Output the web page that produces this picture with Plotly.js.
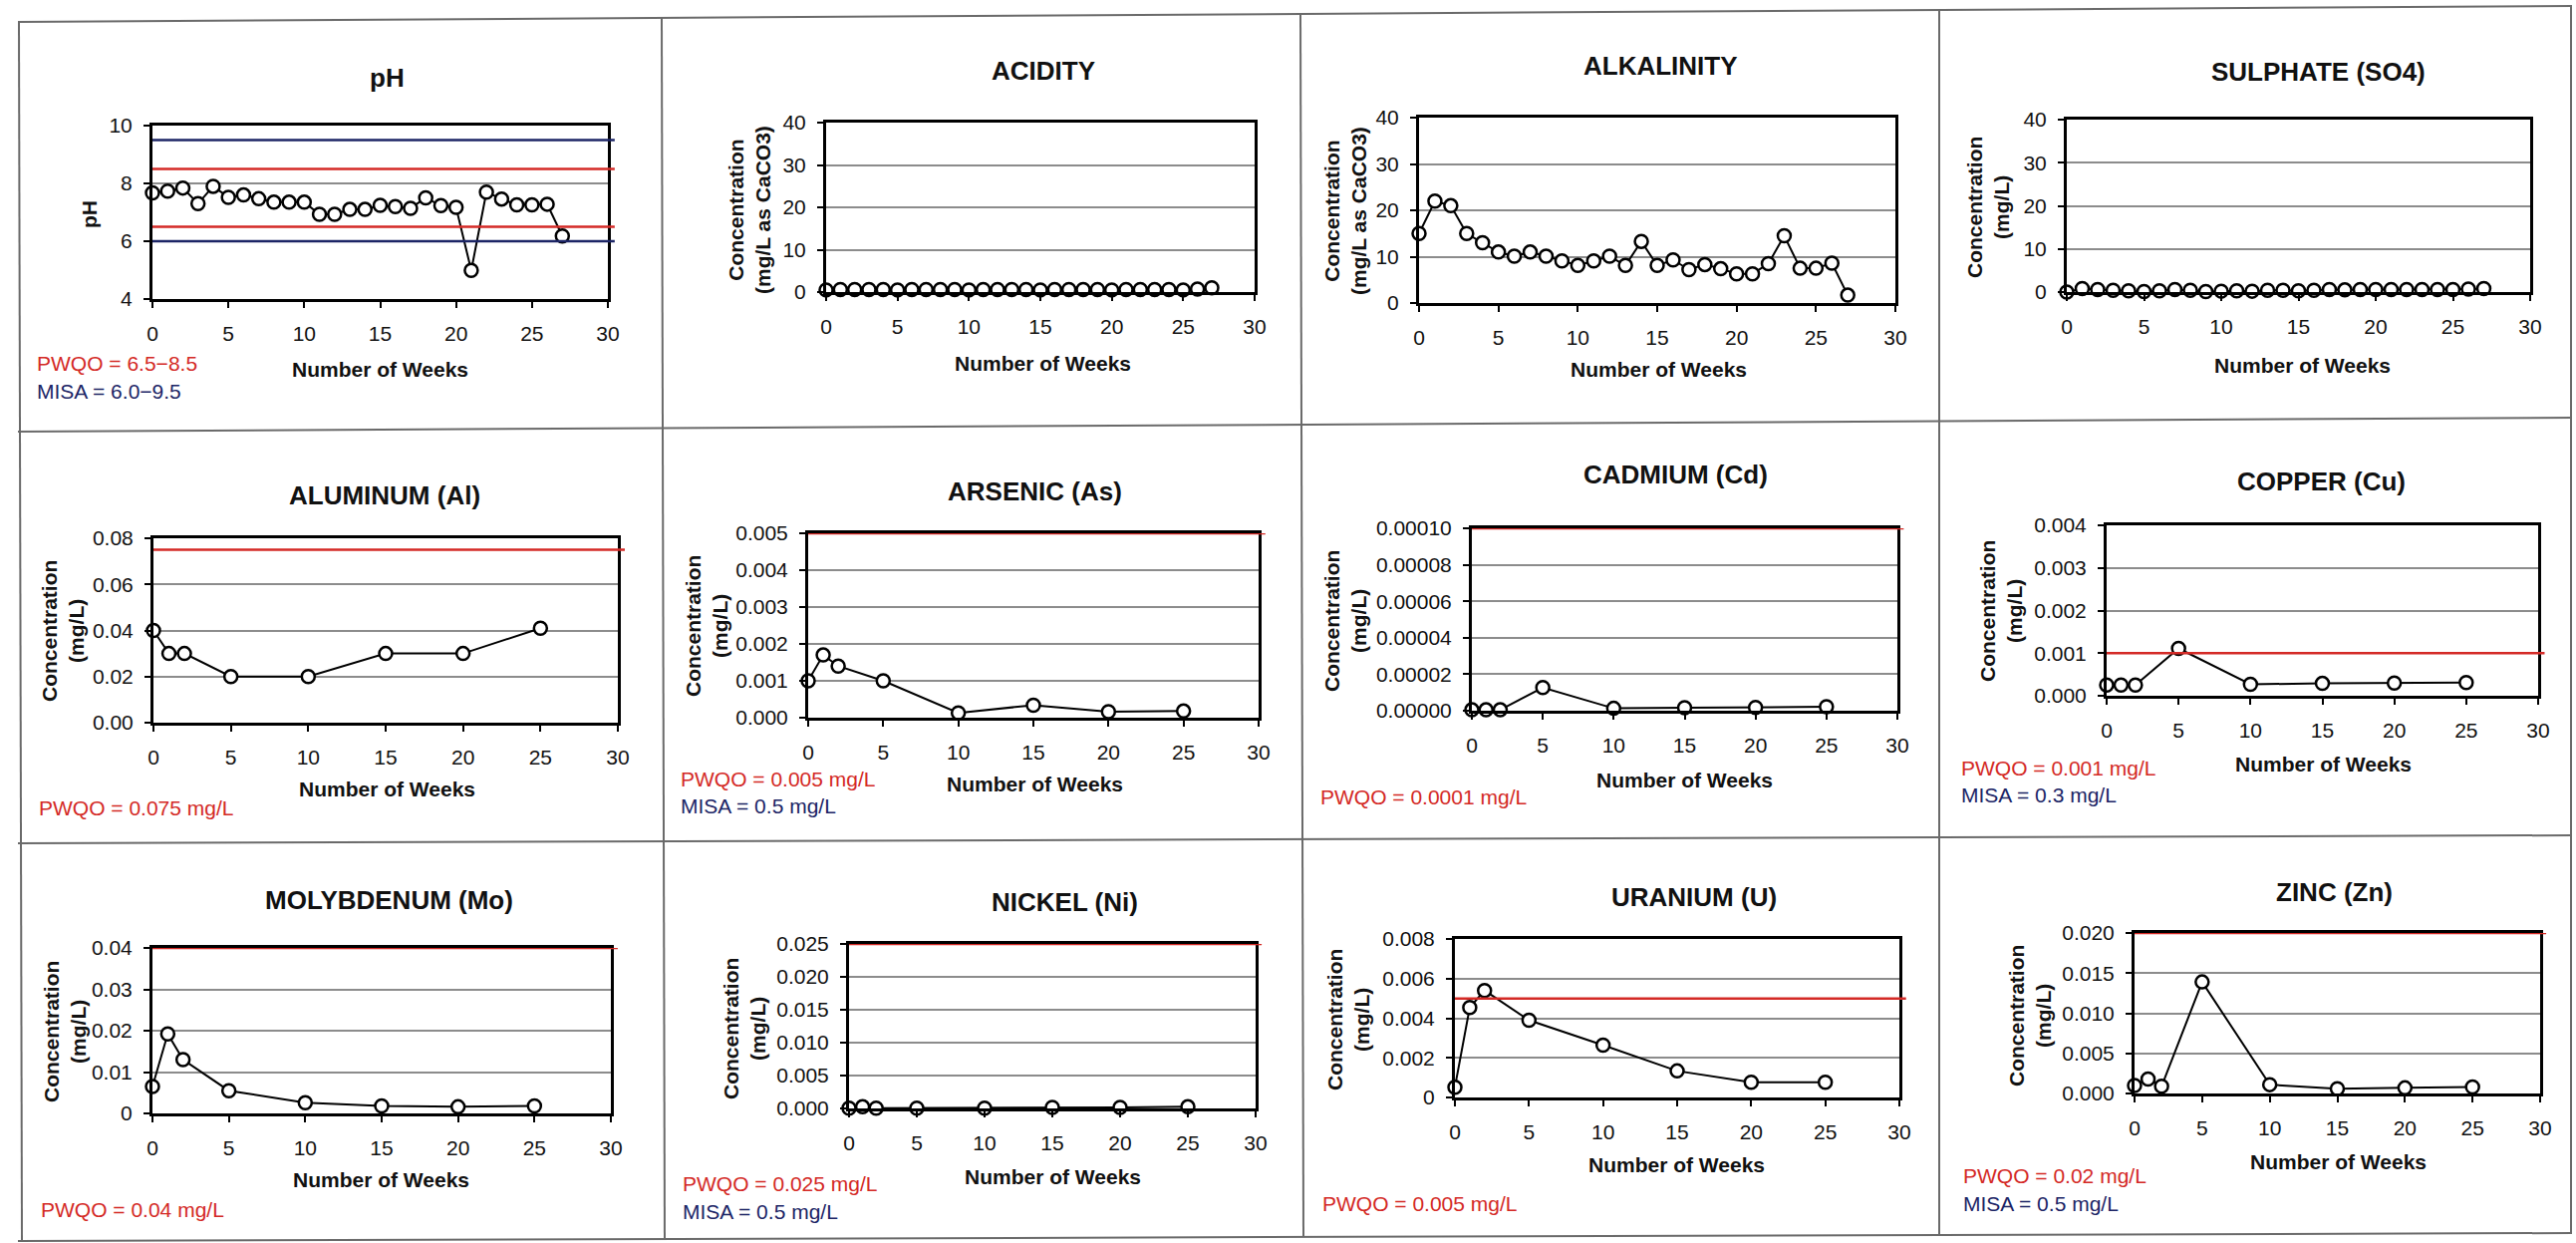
<!DOCTYPE html>
<html>
<head>
<meta charset="utf-8">
<script src="https://cdn.plot.ly/plotly-3.0.1.min.js"></script>
<style>
html,body{margin:0;padding:0;background:#ffffff;}
#chart{width:2585px;height:1247px;}
</style>
</head>
<body>
<div id="chart"></div>
<script>
// ===================== DATA =====================
const weeksAll = [0,1,2,3,4,5,6,7,8,9,10,11,12,13,14,15,16,17,18,19,20,21,22,23,24,25,26,27];
const weeksSampled = [0,1,2,5,10,15,20,25];
const weekTicks = [0,5,10,15,20,25,30];

const phValues = [7.67,7.73,7.84,7.30,7.90,7.52,7.60,7.47,7.35,7.35,7.35,6.93,6.93,7.10,7.10,7.24,7.20,7.14,7.50,7.23,7.17,4.99,7.70,7.46,7.26,7.26,7.28,6.18];
const acidityValues = [0.5,0.6,0.6,0.6,0.6,0.5,0.6,0.6,0.6,0.6,0.5,0.6,0.6,0.6,0.6,0.5,0.6,0.6,0.6,0.6,0.5,0.6,0.6,0.6,0.6,0.5,0.7,1.0];
const alkalinityValues = [15.0,22.0,21.0,15.0,13.0,11.0,10.1,11.0,10.1,9.1,8.1,9.1,10.1,8.1,13.3,8.1,9.3,7.2,8.3,7.4,6.3,6.3,8.5,14.5,7.5,7.5,8.6,1.7];
const sulphateValues = [0.0,0.8,0.6,0.4,0.3,0.1,0.3,0.6,0.4,0.1,0.2,0.3,0.2,0.4,0.4,0.3,0.4,0.6,0.5,0.6,0.6,0.6,0.6,0.6,0.6,0.6,0.7,0.8];
const aluminumValues = [0.040,0.030,0.030,0.020,0.020,0.030,0.030,0.041];
const arsenicValues = [0.0010,0.0017,0.0014,0.0010,0.00013,0.00034,0.00016,0.00018];
const cadmiumValues = [0.0000005,0.0000005,0.0000005,0.0000127,0.0000013,0.0000016,0.0000018,0.0000022];
const copperValues = [0.00025,0.00025,0.00025,0.00111,0.00027,0.00029,0.00030,0.00031];
const molybdenumValues = [0.0065,0.0192,0.0130,0.0055,0.0026,0.0018,0.0016,0.0018];
const nickelValues = [0.00005,0.00025,0.00005,0.00005,0.00005,0.00015,0.00015,0.00025];
const uraniumValues = [0.00052,0.00454,0.00540,0.00390,0.00264,0.00134,0.00077,0.00077];
const zincValues = [0.0010,0.0018,0.0009,0.0139,0.0011,0.0006,0.0007,0.0008];

// guideline values (PWQO red, MISA navy) drawn inside each chart
const phPWQO = [6.5, 8.5];
const phMISA = [6.0, 9.5];
const aluminumPWQO = [0.075];
const arsenicPWQO = [0.005];
const cadmiumPWQO = [0.0001];
const copperPWQO = [0.001];
const molybdenumPWQO = [0.04];
const nickelPWQO = [0.025];
const uraniumPWQO = [0.005];
const zincPWQO = [0.02];

// y tick values
const phTicks = [4,6,8,10];
const concTicks40 = [0,10,20,30,40];
const aluminumTicks = [0,0.02,0.04,0.06,0.08];
const arsenicTicks = [0,0.001,0.002,0.003,0.004,0.005];
const cadmiumTicks = [0,0.00002,0.00004,0.00006,0.00008,0.0001];
const copperTicks = [0,0.001,0.002,0.003,0.004];
const molybdenumTicks = [0,0.01,0.02,0.03,0.04];
const nickelTicks = [0,0.005,0.01,0.015,0.02,0.025];
const uraniumTicks = [0,0.002,0.004,0.006,0.008];
const zincTicks = [0,0.005,0.01,0.015,0.02];

// titles and texts
const panelTitles = ['pH','ACIDITY','ALKALINITY','SULPHATE (SO4)','ALUMINUM (Al)','ARSENIC (As)','CADMIUM (Cd)','COPPER (Cu)','MOLYBDENUM (Mo)','NICKEL (Ni)','URANIUM (U)','ZINC (Zn)'];
const xAxisTitle = 'Number of Weeks';
const yTitleCaCO3 = 'Concentration<br>(mg/L as CaCO3)';
const yTitleMgL = 'Concentration<br>(mg/L)';

// ===================== STYLE / LAYOUT =====================
const W = 2585, H = 1247;
const FONT = '"Liberation Sans", Arial, sans-serif';
const RED = '#d42a26';
const NAVY = '#1c2566';
const GRID = '#8c8c8c';

// box: [left, right, top, bottom] in px
const panels = [
  {title:panelTitles[0], x:weeksAll, y:phValues, range:[4,10], ticks:phTicks, fmt:'',
   box:[153,610,126,300], t:[388,78], yt:'pH', ytx:89, yty:215, xt:[381,371],
   notes:[['PWQO = 6.5−8.5',RED,35,364],['MISA = 6.0−9.5',NAVY,35,392]],
   limits:[[phPWQO,RED],[phMISA,NAVY]]},
  {title:panelTitles[1], x:weeksAll, y:acidityValues, range:[0,40], ticks:concTicks40, fmt:'',
   box:[829,1259,123,293], t:[1047,71], yt:yTitleCaCO3, ytx:752, yty:211, xt:[1046,364],
   notes:[], limits:[]},
  {title:panelTitles[2], x:weeksAll, y:alkalinityValues, range:[0,40], ticks:concTicks40, fmt:'',
   box:[1424,1902,118,304], t:[1666,66], yt:yTitleCaCO3, ytx:1350, yty:212, xt:[1664,371],
   notes:[], limits:[]},
  {title:panelTitles[3], x:weeksAll, y:sulphateValues, range:[0,40], ticks:concTicks40, fmt:'',
   box:[2074,2539,120,293], t:[2326,72], yt:yTitleMgL, ytx:1995, yty:208, xt:[2310,366],
   notes:[], limits:[]},
  {title:panelTitles[4], x:weeksSampled, y:aluminumValues, range:[0,0.08], ticks:aluminumTicks, fmt:'.2f',
   box:[154,620,540,725], t:[386,497], yt:yTitleMgL, ytx:63, yty:633, xt:[388,791],
   notes:[['PWQO = 0.075 mg/L',RED,37,811]], limits:[[aluminumPWQO,RED]]},
  {title:panelTitles[5], x:weeksSampled, y:arsenicValues, range:[0,0.005], ticks:arsenicTicks, fmt:'.3f',
   box:[811,1263,535,720], t:[1038,493], yt:yTitleMgL, ytx:709, yty:628, xt:[1038,787],
   notes:[['PWQO = 0.005 mg/L',RED,681,781],['MISA = 0.5 mg/L',NAVY,681,808]], limits:[[arsenicPWQO,RED]]},
  {title:panelTitles[6], x:weeksSampled, y:cadmiumValues, range:[0,0.0001], ticks:cadmiumTicks, fmt:'.5f',
   box:[1477,1904,530,713], t:[1681,476], yt:yTitleMgL, ytx:1350, yty:623, xt:[1690,782],
   notes:[['PWQO = 0.0001 mg/L',RED,1323,799]], limits:[[cadmiumPWQO,RED]]},
  {title:panelTitles[7], x:weeksSampled, y:copperValues, range:[0,0.004], ticks:copperTicks, fmt:'.3f',
   box:[2114,2547,527,698], t:[2329,483], yt:yTitleMgL, ytx:2008, yty:613, xt:[2331,766],
   notes:[['PWQO = 0.001 mg/L',RED,1966,770],['MISA = 0.3 mg/L',NAVY,1966,797]], limits:[[copperPWQO,RED]]},
  {title:panelTitles[8], x:weeksSampled, y:molybdenumValues, range:[0,0.04], ticks:molybdenumTicks, fmt:'',
   box:[153,613,951,1117], t:[390,903], yt:yTitleMgL, ytx:65, yty:1035, xt:[383,1183],
   notes:[['PWQO = 0.04 mg/L',RED,39,1213]], limits:[[molybdenumPWQO,RED]]},
  {title:panelTitles[9], x:weeksSampled, y:nickelValues, range:[0,0.025], ticks:nickelTicks, fmt:'.3f',
   box:[852,1260,947,1112], t:[1068,905], yt:yTitleMgL, ytx:747, yty:1032, xt:[1056,1180],
   notes:[['PWQO = 0.025 mg/L',RED,683,1187],['MISA = 0.5 mg/L',NAVY,683,1215]], limits:[[nickelPWQO,RED]]},
  {title:panelTitles[10], x:weeksSampled, y:uraniumValues, range:[0,0.008], ticks:uraniumTicks, fmt:'',
   box:[1460,1906,942,1101], t:[1700,900], yt:yTitleMgL, ytx:1353, yty:1023, xt:[1682,1168],
   notes:[['PWQO = 0.005 mg/L',RED,1325,1207]], limits:[[uraniumPWQO,RED]]},
  {title:panelTitles[11], x:weeksSampled, y:zincValues, range:[0,0.02], ticks:zincTicks, fmt:'.3f',
   box:[2142,2549,936,1097], t:[2342,895], yt:yTitleMgL, ytx:2037, yty:1019, xt:[2346,1165],
   notes:[['PWQO = 0.02 mg/L',RED,1968,1179],['MISA = 0.5 mg/L',NAVY,1968,1207]], limits:[[zincPWQO,RED]]}
];

const px = v => v / W;
const py = v => 1 - v / H;

const traces = [];
const layout = {
  width: W, height: H,
  margin: {l:0, r:0, t:0, b:0},
  paper_bgcolor: '#ffffff',
  plot_bgcolor: '#ffffff',
  showlegend: false,
  font: {family: FONT, color: '#111111'},
  annotations: [],
  shapes: []
};

panels.forEach((p, i) => {
  const n = i + 1;
  const xid = 'x' + (n > 1 ? n : '');
  const yid = 'y' + (n > 1 ? n : '');
  const xk = 'xaxis' + (n > 1 ? n : '');
  const yk = 'yaxis' + (n > 1 ? n : '');
  const [L, R, T, B] = p.box;

  const axisCommon = {
    zeroline: false, showline: true, mirror: true, linecolor: '#000000', linewidth: 3,
    ticks: 'outside', ticklen: 6, tickwidth: 2, tickcolor: '#000000',
    tickfont: {family: FONT, size: 21, color: '#111111'},
    fixedrange: true
  };
  layout[xk] = Object.assign({}, axisCommon, {
    domain: [px(L), px(R)], anchor: yid, range: [0, 30],
    tickmode: 'array', tickvals: weekTicks, showgrid: false, ticklabelstandoff: 8
  });
  layout[yk] = Object.assign({}, axisCommon, {
    domain: [py(B), py(T)], anchor: xid, range: p.range,
    tickmode: 'array', tickvals: p.ticks, tickformat: p.fmt,
    showgrid: true, gridcolor: GRID, gridwidth: 2, ticklabelstandoff: 7
  });

  traces.push({
    type: 'scatter', mode: 'lines+markers', xaxis: xid, yaxis: yid,
    x: p.x, y: p.y, cliponaxis: false, hoverinfo: 'x+y',
    line: {color: '#000000', width: 2},
    marker: {symbol: 'circle', size: 13, color: '#ffffff', line: {color: '#000000', width: 2.5}}
  });

  // guideline lines
  p.limits.forEach(([vals, color]) => {
    vals.forEach(v => {
      layout.shapes.push({
        type: 'line', layer: 'above',
        xref: xid + ' domain', x0: 0, x1: 1.015,
        yref: yid, y0: v, y1: v,
        line: {color: color, width: 2.5}
      });
    });
  });

  // chart title
  layout.annotations.push({
    text: p.title, xref: 'paper', yref: 'paper', x: px(p.t[0]), y: py(p.t[1]),
    xanchor: 'center', yanchor: 'middle', showarrow: false,
    font: {family: FONT, size: 26, color: '#111111', weight: 'bold'}
  });
  // y title
  layout.annotations.push({
    text: '<b>' + p.yt + '</b>', xref: 'paper', yref: 'paper', x: px(p.ytx), y: py(p.yty),
    xanchor: 'center', yanchor: 'middle', showarrow: false, textangle: -90,
    font: {family: FONT, size: 21, color: '#111111'}
  });
  // x title
  layout.annotations.push({
    text: '<b>' + xAxisTitle + '</b>', xref: 'paper', yref: 'paper', x: px(p.xt[0]), y: py(p.xt[1]),
    xanchor: 'center', yanchor: 'middle', showarrow: false,
    font: {family: FONT, size: 21, color: '#111111'}
  });
  // guideline notes
  p.notes.forEach(([txt, color, nx, ny]) => {
    layout.annotations.push({
      text: txt, xref: 'paper', yref: 'paper', x: px(nx), y: py(ny),
      xanchor: 'left', yanchor: 'middle', showarrow: false,
      font: {family: FONT, size: 21, color: color}
    });
  });
});

// table cell borders
const borderLines = [
  [18,22,2581,6],[18,433,2581,419],[18,846,2581,838],[18,1245,2581,1237],
  [19,22,22,1245],[664,18,667,1243],[1305,14,1308,1241],[1946,10,1946,1239],[2580,6,2580,1237]
];
borderLines.forEach(([x0,y0,x1,y1]) => {
  layout.shapes.push({
    type: 'line', layer: 'below', xref: 'paper', yref: 'paper',
    x0: px(x0), y0: py(y0), x1: px(x1), y1: py(y1),
    line: {color: '#6a6a6a', width: 2}
  });
});

Plotly.newPlot('chart', traces, layout, {displayModeBar: false, staticPlot: true});
</script>
</body>
</html>
